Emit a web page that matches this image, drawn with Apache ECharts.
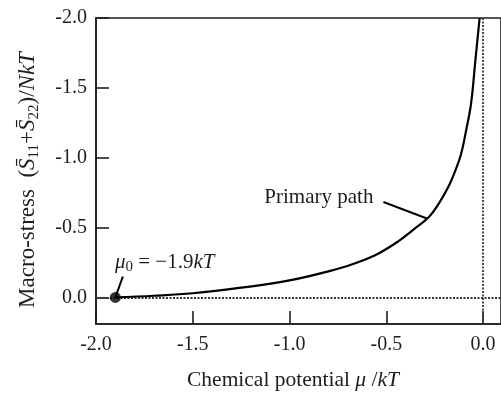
<!DOCTYPE html>
<html>
<head>
<meta charset="utf-8">
<script src="https://cdn.jsdelivr.net/npm/echarts@6/dist/echarts.min.js"></script>
<style>
html,body{margin:0;padding:0;background:#fff;}
#chart{width:501px;height:399px;}
</style>
</head>
<body>
<div id="chart"></div>
<script>
// Data
const muValues = [-1.9, -1.7, -1.5, -1.25, -1.0, -0.75, -0.65, -0.54, -0.44, -0.36, -0.28, -0.23, -0.18, -0.14, -0.113, -0.087, -0.062, -0.041, -0.018];
const stressValues = [0, -0.012, -0.03, -0.07, -0.122, -0.205, -0.25, -0.315, -0.40, -0.485, -0.576, -0.67, -0.79, -0.92, -1.03, -1.2, -1.39, -1.68, -2.0];
const startMu = [-1.9];
const startStress = [0];
const primaryLeaderMu = [-0.515, -0.29];
const primaryLeaderStress = [-0.683, -0.565];
const mu0LeaderMu = [-1.861, -1.9];
const mu0LeaderStress = [-0.15, 0];
const xTicks = [-2.0, -1.5, -1.0, -0.5, 0.0];
const yTicks = [-2.0, -1.5, -1.0, -0.5, 0.0];
const refLinesX = [0];
const refLinesY = [0];

const FONT = 'Liberation Serif';
const INK = '#1e1e1e';

function zip(a, b) { return a.map((v, i) => [v, b[i]]); }

const chart = echarts.init(document.getElementById('chart'), null, {renderer: 'canvas'});

const primaryData = zip(primaryLeaderMu, primaryLeaderStress).map((p, i) => i === 0 ? {
  value: p,
  label: {
    show: true, position: 'left', distance: 10, offset: [0, -5],
    formatter: 'Primary path', fontFamily: FONT, fontSize: 21, color: INK
  }
} : {value: p});

const mu0Data = zip(mu0LeaderMu, mu0LeaderStress).map((p, i) => i === 0 ? {
  value: p,
  label: {
    show: true, position: 'top', distance: 2, align: 'left', offset: [-8, 0],
    formatter: '{i|μ}{s|0}{n| = −1.9}{i|kT}',
    rich: {
      i: {fontFamily: FONT, fontStyle: 'italic', fontSize: 21, color: INK, lineHeight: 24},
      n: {fontFamily: FONT, fontSize: 21, color: INK, lineHeight: 24},
      s: {fontFamily: FONT, fontSize: 15, color: INK, lineHeight: 14, verticalAlign: 'bottom'}
    }
  }
} : {value: p});

const option = {
  animation: false,
  backgroundColor: '#fff',
  grid: {left: 96, top: 18, right: -2, bottom: 75, show: true, borderColor: INK, borderWidth: 1.6, backgroundColor: 'transparent'},
  xAxis: {
    type: 'value', min: -2.0, max: 0.0925, interval: 0.5,
    axisLine: {show: true, onZero: false, lineStyle: {color: INK, width: 1.6}},
    axisTick: {show: true, inside: true, length: 13, customValues: xTicks, lineStyle: {color: INK, width: 1.6}},
    axisLabel: {show: true, customValues: xTicks, margin: 11, fontFamily: FONT, fontSize: 20, color: INK,
      formatter: v => v.toFixed(1)},
    splitLine: {show: false}
  },
  yAxis: {
    type: 'value', min: -2.0, max: 0.19, interval: 0.5, inverse: true,
    axisLine: {show: true, onZero: false, lineStyle: {color: INK, width: 1.6}},
    axisTick: {show: true, inside: true, length: 13, customValues: yTicks, lineStyle: {color: INK, width: 1.6}},
    axisLabel: {show: true, customValues: yTicks, margin: 9, fontFamily: FONT, fontSize: 20, color: INK,
      formatter: v => v.toFixed(1)},
    splitLine: {show: false}
  },
  series: [
    {
      type: 'line', data: zip(muValues, stressValues), smooth: 0.4, showSymbol: false,
      lineStyle: {color: '#000', width: 2.2}, z: 5,
      markLine: {
        silent: true, symbol: 'none', label: {show: false},
        lineStyle: {type: [2, 1.5], color: '#333', width: 1.8},
        data: refLinesY.map(v => ({yAxis: v})).concat(refLinesX.map(v => ({xAxis: v})))
      }
    },
    {
      type: 'line', data: primaryData, showSymbol: true, symbol: 'circle', symbolSize: 0,
      lineStyle: {color: '#000', width: 2}, z: 6
    },
    {
      type: 'line', data: mu0Data, showSymbol: true, symbol: 'circle', symbolSize: 0,
      lineStyle: {color: '#000', width: 2}, z: 6
    },
    {
      type: 'scatter', data: zip(startMu, startStress), symbol: 'circle', symbolSize: 11,
      itemStyle: {color: '#000'}, z: 7
    }
  ],
  graphic: [
    {
      type: 'text', x: 28, y: 180, rotation: Math.PI / 2, z: 10,
      style: {
        text: '{n|Macro-stress  (}{i|S\u0304}{s|11}{n|+}{i|S\u0304}{s|22}{n|)/}{i|NkT}',
        align: 'center', verticalAlign: 'middle',
        rich: {
          n: {fontFamily: FONT, fontSize: 23, fill: INK, lineHeight: 28},
          i: {fontFamily: FONT, fontStyle: 'italic', fontSize: 23, fill: INK, lineHeight: 28},
          s: {fontFamily: FONT, fontSize: 15, fill: INK, lineHeight: 15, verticalAlign: 'bottom'}
        }
      }
    },
    {
      type: 'text', x: 293, y: 380, z: 10,
      style: {
        text: '{n|Chemical potential }{i|μ}{n| /}{i|kT}',
        align: 'center', verticalAlign: 'middle',
        rich: {
          n: {fontFamily: FONT, fontSize: 21.5, fill: INK},
          i: {fontFamily: FONT, fontStyle: 'italic', fontSize: 21.5, fill: INK}
        }
      }
    }
  ]
};
chart.setOption(option);
</script>
</body>
</html>
